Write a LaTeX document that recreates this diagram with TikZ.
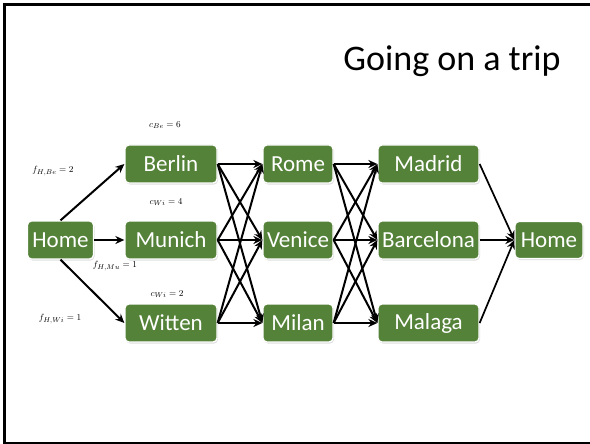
\documentclass[tikz,border=0pt]{standalone}
\usepackage{fontspec}
\setmainfont{Carlito}
\usetikzlibrary{arrows.meta,shadows}
\definecolor{cityGreen}{RGB}{84,130,57}
\tikzset{
  city/.style={rectangle, rounded corners=4pt, fill=cityGreen, draw=white,
    line width=1.3pt, text=white, font=\fontsize{23}{26}\selectfont,
    inner sep=0pt, minimum height=38pt,
    drop shadow={shadow xshift=1pt, shadow yshift=-1.5pt, opacity=0.25, fill=gray}},
  colA/.style={city, minimum width=66pt},
  colB/.style={city, minimum width=92pt},
  colC/.style={city, minimum width=70pt},
  colD/.style={city, minimum width=101pt},
  colE/.style={city, minimum width=68pt, minimum height=37pt},
  trip/.style={-{Stealth[length=9pt,width=8pt]}, line width=2pt, black},
  cost/.style={font=\fontsize{9.5}{11}\selectfont, inner sep=0pt}
}
\begin{document}
\begin{tikzpicture}[x=1pt,y=-1pt]
  \useasboundingbox (0,0) rectangle (590,444);
  % slide frame (its right side falls just off the page)
  \draw[line width=2.5pt] (4.5,4.5) rectangle (593,443);
  % title
  \node[font=\fontsize{36}{40}\selectfont] (title) at (452,61) {Going on a trip};

  % cities
  \node[colA] (home) at (60.5,240) {Home};
  \node[colB] (berlin) at (171,164) {Berlin};
  \node[colB] (munich) at (171,240) {Munich};
  \node[colB] (witten) at (171,323) {Witten};
  \node[colC] (rome) at (298,164) {Rome};
  \node[colC] (venice) at (298,240) {Venice};
  \node[colC] (milan) at (298,323) {Milan};
  \node[colD] (madrid) at (428.5,164) {Madrid};
  \node[colD] (barcelona) at (428.5,240) {Barcelona};
  \node[colD] (malaga) at (428.5,323) {Malaga};
  \node[colE] (homeB) at (549,240) {Home};

  % costs and flows
  \node[cost] (cBe) at (165,125) {$c_{Be}=6$};
  \node[cost] (cWiA) at (166,202) {$c_{Wi}=4$};
  \node[cost] (cWiB) at (167,294) {$c_{Wi}=2$};
  \node[cost] (fBe) at (53,171) {$f_{H,Be}=2$};
  \node[cost] (fMu) at (115,266) {$f_{H,Mu}=1$};
  \node[cost] (fWi) at (60,319) {$f_{H,Wi}=1$};

  % departures
  \draw[trip] (home.north) -- (berlin.west);
  \draw[trip] (home.east) -- (munich.west);
  \draw[trip] (home.south) -- (witten.west);

  % first leg
  \foreach \a in {berlin,munich,witten}
    \foreach \b in {rome,venice,milan}
      \draw[trip] (\a.east) -- (\b.west);

  % second leg
  \foreach \a in {rome,venice,milan}
    \foreach \b in {madrid,barcelona,malaga}
      \draw[trip] (\a.east) -- (\b.west);

  % return
  \foreach \a in {madrid,barcelona,malaga}
    \draw[trip, line width=1.7pt] (\a.east) -- (homeB.west);
\end{tikzpicture}
\end{document}
